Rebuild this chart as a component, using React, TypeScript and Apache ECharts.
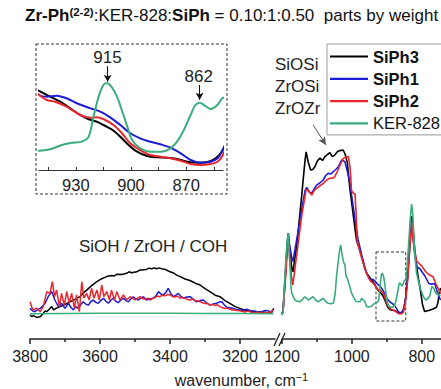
import React, { useEffect, useRef } from "react";
import * as echarts from "echarts";

type Pt = [number, number];

const FONT = '"Liberation Sans", Arial, sans-serif';

const seriesNames = ["SiPh3", "SiPh1", "SiPh2", "KER-828"];
const seriesColors = ["#000000", "#1c1cd4", "#e8262b", "#3aad7c"];

// ---- high-wavenumber region (3800-3100 cm-1): [wavenumber, absorbance a.u.]
const siph3High: Pt[] = [
  [3800, 8], [3795, 7.5], [3790, 7.8], [3781, 7.2], [3771, 7.4], [3762, 8.5], [3757, 9.4], [3752, 9.1], [3745, 9.9], [3738, 10.8],
  [3733, 9.7], [3724, 10.3], [3714, 10.8], [3700, 11.5], [3686, 12.4], [3672, 13.2], [3657, 14.1], [3648, 15.3], [3638, 16.3],
  [3624, 17.8], [3609, 19.1], [3595, 20.1], [3581, 20.8], [3567, 21.2], [3559, 21.0], [3552, 21.6], [3538, 21.5], [3524, 21.9],
  [3517, 22.4], [3510, 22.1], [3495, 22.4], [3488, 22.9], [3481, 23.0], [3467, 23.2], [3460, 23.6], [3452, 23.4], [3445, 23.7],
  [3438, 23.4], [3431, 23.7], [3424, 23.4], [3417, 23.3], [3410, 23.0], [3400, 22.4], [3390, 22.0], [3381, 21.3], [3371, 20.8],
  [3357, 20.0], [3343, 19.5], [3328, 18.6], [3314, 18], [3300, 16.8], [3286, 15.8], [3271, 14.6], [3257, 14.1], [3243, 12.8],
  [3229, 11.9], [3214, 10.8], [3200, 10.2], [3186, 9.6], [3171, 9.3], [3157, 9.0], [3143, 9.1], [3128, 8.8], [3114, 8.6], [3103, 10.2]
];

const siph1High: Pt[] = [
  [3800, 10.2], [3793, 9.4], [3786, 9.1], [3778, 9.8], [3771, 10.2], [3764, 11], [3757, 11.9], [3748, 14.1], [3738, 15.8],
  [3729, 13], [3719, 10.8], [3710, 11.9], [3700, 10.2], [3690, 11.9], [3683, 10.5], [3676, 9.7], [3669, 10.8], [3662, 10.2],
  [3655, 11.5], [3648, 12.4], [3640, 11.6], [3633, 11.3], [3626, 12.5], [3619, 13], [3612, 12.2], [3605, 11.9], [3598, 12.8],
  [3590, 13.6], [3583, 12.6], [3576, 11.9], [3569, 12.9], [3562, 13.6], [3555, 12.6], [3548, 12.1], [3540, 13], [3533, 13.6],
  [3526, 12.8], [3519, 12.4], [3512, 13.3], [3505, 14.1], [3498, 13.4], [3490, 13], [3483, 13.6], [3476, 14.1], [3467, 13],
  [3457, 13.4], [3448, 13.6], [3440, 14.4], [3433, 15.8], [3426, 15], [3419, 14.7], [3412, 15.5], [3405, 16.9], [3398, 15.2],
  [3390, 14.1], [3383, 14.6], [3376, 15.2], [3369, 14.2], [3362, 13.6], [3352, 14], [3343, 14.1], [3333, 13.2], [3324, 12.4],
  [3314, 12.8], [3305, 13], [3295, 12], [3286, 11.3], [3276, 11.7], [3267, 11.9], [3259, 12.3], [3252, 12.4], [3245, 11.4],
  [3238, 10.6], [3228, 10.4], [3219, 10.2], [3210, 9.8], [3200, 9.7], [3190, 9.5], [3181, 9.9], [3169, 9.4], [3157, 9.3],
  [3148, 9.0], [3138, 9.1], [3128, 9.5], [3119, 9.4], [3112, 9.0], [3105, 9.1]
];

const siph2High: Pt[] = [
  [3800, 12.4], [3792, 9.7], [3781, 10.2], [3771, 9.1], [3762, 10.8], [3752, 15.8], [3743, 15.2], [3736, 19.1], [3730, 14.1],
  [3724, 16.3], [3716, 10.8], [3710, 15.2], [3702, 11.3], [3695, 15.8], [3688, 11.9], [3681, 15.2], [3673, 10.2], [3667, 14.7],
  [3659, 9.1], [3652, 19.1], [3646, 13.6], [3638, 15.2], [3631, 13], [3624, 16.9], [3617, 13.6], [3609, 16.3], [3602, 13],
  [3595, 18], [3589, 14.1], [3581, 15.8], [3573, 13], [3567, 16.3], [3559, 13], [3552, 15.8], [3543, 13], [3533, 14.7],
  [3524, 13], [3514, 14.1], [3500, 13], [3486, 14.1], [3478, 13.5], [3471, 13.2], [3464, 13.6], [3457, 13], [3450, 13.5],
  [3443, 13.8], [3436, 14.3], [3429, 14.1], [3421, 14.6], [3414, 14.4], [3407, 14.9], [3400, 14.7], [3393, 14.2], [3386, 14.0],
  [3378, 14.3], [3371, 13.6], [3364, 13.9], [3357, 13.5], [3350, 13.2], [3343, 13], [3336, 13.3], [3328, 12.8], [3321, 12.7],
  [3314, 12.4], [3307, 12.1], [3300, 11.8], [3293, 11.9], [3286, 11.3], [3279, 11.5], [3271, 11.2], [3264, 11.4], [3257, 10.8],
  [3250, 10.4], [3243, 10.2], [3236, 10.3], [3229, 9.9], [3221, 9.7], [3214, 9.6], [3207, 9.5], [3200, 9.4], [3193, 9.2],
  [3186, 9.0], [3178, 9.3], [3171, 9.1], [3164, 8.8], [3157, 8.7], [3150, 8.9], [3143, 8.8], [3136, 8.6], [3128, 8.9],
  [3121, 8.7], [3114, 8.9], [3105, 9.7]
];

const kerHigh: Pt[] = [
  [3800, 8.4], [3700, 8.5], [3600, 8.6], [3500, 8.6], [3400, 8.6], [3300, 8.5], [3200, 8.5], [3105, 8.4]
];

// ---- low-wavenumber region (1200-745 cm-1)
const siph3Low: Pt[] = [
  [1200, 8.5], [1197, 9.5], [1190, 22], [1185, 32], [1182, 35.3], [1178, 30], [1172, 23.5], [1169, 22.4], [1158, 30.8],
  [1144, 47.4], [1134, 59.7], [1131, 62.4], [1125, 59], [1118, 56.3], [1112, 56.5], [1106, 57.4], [1098, 59.5], [1091, 60.3],
  [1084, 59.5], [1077, 60.8], [1070, 61.5], [1063, 62.1], [1056, 60.8], [1049, 61.3], [1041, 62.5], [1034, 62.8], [1025, 63],
  [1019, 61.5], [1013, 58.7], [1006, 50.3], [998, 43], [987, 33], [977, 29.5], [972, 27.4], [963, 23.5], [958, 22], [950, 20.67],
  [944, 19.72], [938.5, 18.88], [933, 17.78], [927.6, 16.67], [923, 15.95], [918.5, 15.55], [915, 15], [910, 14.17],
  [905.8, 13.05], [901.3, 11.67], [896.7, 10.55], [891.3, 9.83], [885.8, 9.62], [880.3, 9.55], [875, 9.33], [869.4, 8.88],
  [864, 8.72], [858.5, 8.83], [854, 9.45], [850.4, 10.67], [846, 14], [840, 22], [835, 31], [831, 37], [828, 41], [825, 37],
  [820, 29.7], [812, 21.9], [805, 17], [798, 11.5], [792, 9.2], [780, 9.5], [768, 10], [758, 10.6], [754, 12], [750, 15.5], [746, 17]
];

const siph1Low: Pt[] = [
  [1200, 8.5], [1197, 9.5], [1190, 22], [1185, 31], [1182, 34.6], [1178, 31], [1172, 27], [1169, 25.8], [1158, 33],
  [1144, 42.9], [1134, 49.5], [1129, 50.5], [1122, 49], [1115, 48.6], [1108, 50], [1101, 51.3], [1092, 52], [1082, 53],
  [1075, 54.5], [1068, 55.2], [1060, 55], [1053, 55.8], [1046, 56.5], [1039, 57.4], [1029, 59.7], [1020, 59.1], [1013, 56],
  [1006, 52], [996, 44.1], [989, 38], [982, 33], [972, 28], [963, 24], [958, 22], [950, 20],
  [945.8, 19.72], [940.3, 19.88], [935, 19.45], [928.5, 18.5], [922, 17.78], [916.7, 17.22], [911.3, 16.28], [905.8, 15],
  [900.4, 13.62], [895, 12.78], [889.5, 12.22], [884, 11.78], [878.5, 11.22], [873, 10.28], [867.6, 9.17], [862.2, 8.72],
  [856.7, 8.88], [853, 9.45], [850.4, 10.72], [846, 13.5], [840, 21], [835, 30], [831, 36], [828, 40], [825, 34], [820, 28],
  [815, 24], [806, 23.5], [800, 22.5], [791, 21], [780, 18.5], [772, 18.3], [763, 18.5], [755, 15.5], [749, 13.6], [746, 13]
];

const siph2Low: Pt[] = [
  [1200, 8], [1197, 9], [1190, 20], [1185, 29], [1182, 33], [1178, 27], [1172, 20], [1169, 18], [1158, 28], [1144, 40.7],
  [1131, 49.8], [1125, 49.5], [1115, 48], [1108, 49.5], [1101, 50.2], [1092, 51], [1082, 51.9], [1072, 53], [1063, 53.6],
  [1056, 53.6], [1049, 54.1], [1041, 56], [1034, 58], [1025, 60.2], [1018, 60.6], [1010, 60.8], [1005, 57], [1001, 49.4],
  [995, 48.5], [991, 48.3], [988, 42], [985, 33], [977, 29], [968, 25.5], [958, 21.8], [950, 20],
  [945.8, 19.17], [941.3, 18.88], [935, 18.05], [927.6, 16.67], [922, 16.22], [918.5, 16.28], [914, 15.83], [909.5, 15],
  [904.9, 13.62], [900.4, 11.95], [895, 10.83], [889.5, 10], [884, 9.72], [878.5, 9.45], [873, 9.05], [867.6, 8.5],
  [862.2, 8.33], [856.7, 8.5], [853, 8.88], [850.4, 9.83], [846, 13], [840, 20], [835, 29], [831, 35], [828, 39], [825, 33],
  [820, 29], [815, 26], [806, 25], [800, 24.3], [789, 22.5], [780, 21.5], [772, 21], [768, 20.8], [760, 18.5], [749, 15.9], [746, 15]
];

const kerLow: Pt[] = [
  [1200, 8], [1197, 9], [1190, 25], [1185, 33], [1182, 35.2], [1178, 26], [1174, 17], [1172, 15.2], [1163, 13], [1156, 12.6],
  [1149, 12.4], [1141, 13.3], [1134, 14.1], [1125, 13], [1118, 13.5], [1111, 14.1], [1104, 13], [1096, 12.4], [1089, 13],
  [1082, 13.6], [1075, 12.5], [1068, 11.9], [1060, 11.8], [1053, 11.9], [1048, 15], [1044, 20.8], [1038, 27], [1034, 30.5],
  [1032, 31.3], [1028, 28], [1023, 25.2], [1020, 25], [1017, 21], [1013, 20.2], [1006, 17.4], [1001, 15.3], [991, 13],
  [987, 12.5], [977, 12.4], [972, 13.6], [963, 12.5], [958, 10.8], [950, 10.72],
  [944, 10.95], [937.6, 11.67], [932, 12.05], [926.7, 12.22], [923, 13.05], [920.4, 16.38], [917.6, 19.72], [915, 21.67],
  [913, 21.95], [910, 21.12], [907.6, 19.72], [905, 17.5], [902, 14.72], [899.4, 12.5], [895, 11.12], [889.5, 10.55],
  [884, 10.55], [878.5, 11.12], [875, 12.22], [871.3, 14.17], [867.6, 16.67], [865, 18.33], [862.6, 18.72], [860.4, 18.33],
  [856.7, 17.67], [853, 18.33], [850, 19.55], [846, 19.7], [842, 24], [838, 31], [833, 40], [829, 45], [826, 42], [822, 33],
  [820, 28], [815, 22], [810, 19.5], [803, 16.5], [795, 14], [789, 13], [782, 13.5], [777, 14.5], [771, 17.5], [766, 17],
  [760, 15.2], [755, 15], [749, 14.5], [746, 14.5]
];

const highData = [siph3High, siph1High, siph2High, kerHigh];
const lowData = [siph3Low, siph1Low, siph2Low, kerLow];

// ---- axis ticks / labels
const leftMajorTicks = [3800, 3600, 3400, 3200];
const leftMinorTicks = [3700, 3500, 3300];
const rightMajorTicks = [1200, 1000, 800];
const rightMinorTicks = [1100, 900];
const insetTicks = [945, 930, 915, 900, 885, 870, 855];
const insetLabels = [930, 900, 870];

// ---- annotations (data coordinates)
const bandArrow: Pt[] = [[1110.6, 71.3], [1074.3, 64.7]];
const peak915Arrow: Pt[] = [[912.7, 24.8], [912.7, 22.2]];
const peak862Arrow: Pt[] = [[862.7, 21.7], [862.7, 19.2]];
const zoomBox: Pt[] = [[931, 29], [846, 6]];

const AX = { color: "#222", width: 1.5 };

function buildOption() {
  const grids = [
    { left: 30, top: 39, width: 245, height: 300 },
    { left: 282, top: 39, width: 159, height: 300 },
    { left: 39, top: 50, width: 184, height: 120 },
    { left: 30, top: 39, width: 245, height: 300 },
    { left: 282, top: 39, width: 159, height: 300 }
  ].map((g) => ({ ...g, outerBoundsMode: "none", containLabel: false }));

  const label = (vals: number[], size: number, margin: number) => ({
    show: true,
    customValues: vals,
    formatter: (v: number) => String(v),
    fontSize: size,
    fontFamily: FONT,
    color: "#222",
    margin
  });

  const xAxis: any[] = [
    {
      gridIndex: 0, type: "value", min: 3100, max: 3800, inverse: true,
      axisLine: { show: true, onZero: false, lineStyle: AX },
      axisTick: { show: true, customValues: leftMajorTicks, length: 5, lineStyle: AX },
      axisLabel: label(leftMajorTicks, 16, 9),
      splitLine: { show: false }
    },
    {
      gridIndex: 1, type: "value", min: 745, max: 1200, inverse: true,
      axisLine: { show: true, onZero: false, lineStyle: AX },
      axisTick: { show: true, customValues: rightMajorTicks, length: 5, lineStyle: AX },
      axisLabel: label(rightMajorTicks, 16, 9),
      splitLine: { show: false }
    },
    {
      gridIndex: 2, type: "value", min: 850, max: 950, inverse: true,
      axisLine: { show: true, onZero: false, lineStyle: { color: "#333", width: 1.2 } },
      axisTick: { show: true, inside: true, customValues: insetTicks, length: 3, lineStyle: { color: "#333", width: 1 } },
      axisLabel: label(insetLabels, 16.5, 6),
      splitLine: { show: false }
    },
    {
      gridIndex: 3, type: "value", min: 3100, max: 3800, inverse: true,
      axisLine: { show: false },
      axisTick: { show: true, customValues: leftMinorTicks, length: 3, lineStyle: AX },
      axisLabel: { show: false },
      splitLine: { show: false }
    },
    {
      gridIndex: 4, type: "value", min: 745, max: 1200, inverse: true,
      axisLine: { show: false },
      axisTick: { show: true, customValues: rightMinorTicks, length: 3, lineStyle: AX },
      axisLabel: { show: false },
      splitLine: { show: false }
    }
  ];

  const yAxis: any[] = [
    { gridIndex: 0, type: "value", min: 0, max: 100, show: false },
    { gridIndex: 1, type: "value", min: 0, max: 100, show: false },
    { gridIndex: 2, type: "value", min: 7.5, max: 27.5, show: false },
    { gridIndex: 3, type: "value", min: 0, max: 100, show: false },
    { gridIndex: 4, type: "value", min: 0, max: 100, show: false }
  ];

  const series: any[] = [];
  seriesNames.forEach((name, i) => {
    series.push({
      name, type: "line", xAxisIndex: 0, yAxisIndex: 0, data: highData[i],
      symbol: "none", lineStyle: { color: seriesColors[i], width: 1.5 }, itemStyle: { color: seriesColors[i] }
    });
  });
  seriesNames.forEach((name, i) => {
    const s: any = {
      name, type: "line", xAxisIndex: 1, yAxisIndex: 1, data: lowData[i],
      symbol: "none", lineStyle: { color: seriesColors[i], width: 1.6 }, itemStyle: { color: seriesColors[i] }
    };
    if (i === 0) {
      s.markLine = {
        silent: true, symbol: ["none", "arrow"], symbolSize: [6, 8],
        lineStyle: { color: "#555", width: 1, type: "solid" }, label: { show: false },
        data: [[{ coord: bandArrow[0] }, { coord: bandArrow[1] }]]
      };
      s.markArea = {
        silent: true,
        itemStyle: { color: "rgba(0,0,0,0)", borderColor: "#333", borderWidth: 1, borderType: [3, 2] },
        label: { show: false },
        data: [[{ coord: zoomBox[0] }, { coord: zoomBox[1] }]]
      };
    }
    series.push(s);
  });
  seriesNames.forEach((name, i) => {
    const s: any = {
      name, type: "line", xAxisIndex: 2, yAxisIndex: 2, data: lowData[i], smooth: 0.3,
      symbol: "none", lineStyle: { color: seriesColors[i], width: 2 }, itemStyle: { color: seriesColors[i] }
    };
    if (i === 0) {
      s.markLine = {
        silent: true, symbol: ["none", "arrow"], symbolSize: [6, 7],
        lineStyle: { color: "#111", width: 1.1, type: "solid" }, label: { show: false },
        data: [
          [{ coord: peak915Arrow[0] }, { coord: peak915Arrow[1] }],
          [{ coord: peak862Arrow[0] }, { coord: peak862Arrow[1] }]
        ]
      };
    }
    series.push(s);
  });

  const txt = (text: string, x: number, y: number, size: number, align: string = "left") => ({
    type: "text", x, y, z: 10,
    style: { text, fontSize: size, fontFamily: FONT, fill: "#222", align, verticalAlign: "middle" }
  });

  const graphic: any[] = [
    {
      type: "rect", z: 0, shape: { x: 36, y: 44, width: 191, height: 150 },
      style: { fill: "#fff", stroke: "#333", lineWidth: 1, lineDash: [3, 2] }
    },
    txt("915", 107.5, 57, 17, "center"),
    txt("862", 198.7, 76, 17, "center"),
    txt("SiOSi", 275, 64.5, 17),
    txt("ZrOSi", 275, 86.5, 17),
    txt("ZrOZr", 275, 108, 17),
    txt("SiOH / ZrOH / COH", 79, 246, 17),
    {
      type: "text", x: 241.5, y: 380, z: 10,
      style: {
        text: "{n|wavenumber, cm}{s|\u22121}", align: "center", verticalAlign: "middle",
        rich: {
          n: { fontSize: 16, fontFamily: FONT, fill: "#222", lineHeight: 18 },
          s: { fontSize: 11, fontFamily: FONT, fill: "#222", lineHeight: 11, verticalAlign: "top" }
        }
      }
    },
    {
      type: "line", z: 10, shape: { x1: 274, y1: 346, x2: 280, y2: 333 },
      style: { stroke: "#222", lineWidth: 1.3 }
    },
    {
      type: "line", z: 10, shape: { x1: 279, y1: 346, x2: 285, y2: 333 },
      style: { stroke: "#222", lineWidth: 1.3 }
    }
  ];

  return {
    animation: false,
    backgroundColor: "#fff",
    title: {
      text: "{b|Zr-Ph}{s|(2-2)}{n|:KER-828:}{b|SiPh}{n| = 0.10:1:0.50  parts by weight}",
      left: 25, top: 6, padding: 0,
      textStyle: {
        fontWeight: "normal",
        rich: {
          b: { fontSize: 17, fontWeight: "bold", fontFamily: FONT, color: "#111", lineHeight: 18 },
          n: { fontSize: 17, fontWeight: "normal", fontFamily: FONT, color: "#111", lineHeight: 18 },
          s: { fontSize: 11.5, fontWeight: "bold", fontFamily: FONT, color: "#111", lineHeight: 11, verticalAlign: "top" }
        }
      }
    },
    legend: {
      data: seriesNames,
      orient: "vertical",
      left: 327, top: 44,
      padding: [4, 20, 3, 3],
      icon: "rect",
      itemWidth: 38, itemHeight: 2.2, itemGap: 5.3,
      backgroundColor: "#fff", borderColor: "#999", borderWidth: 1,
      selectedMode: false,
      formatter: (name: string) => (name === "KER-828" ? `{n|${name}}` : `{b|${name}}`),
      textStyle: {
        fontFamily: FONT, fontSize: 16.5, color: "#111",
        rich: {
          b: { fontFamily: FONT, fontSize: 16.5, fontWeight: "bold", color: "#111" },
          n: { fontFamily: FONT, fontSize: 16.5, fontWeight: "normal", color: "#111" }
        }
      }
    },
    grid: grids,
    xAxis,
    yAxis,
    series,
    graphic
  };
}

export default function App() {
  const ref = useRef<HTMLDivElement>(null);
  useEffect(() => {
    document.body.style.margin = "0";
    const chart = echarts.init(ref.current!, undefined, { renderer: "svg" });
    chart.setOption(buildOption() as any);
    return () => chart.dispose();
  }, []);
  return <div ref={ref} style={{ width: 441, height: 389 }} />;
}
